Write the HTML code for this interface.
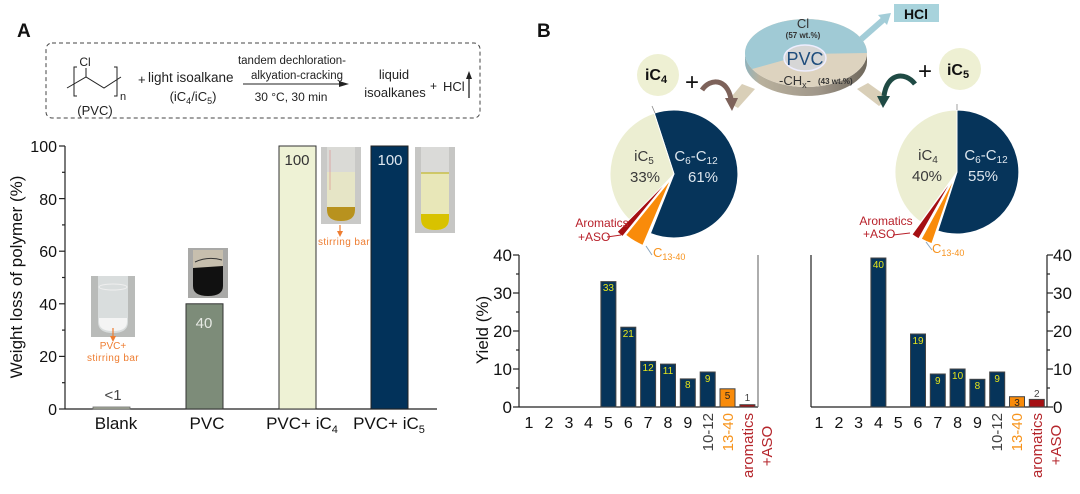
<!DOCTYPE html>
<html><head><meta charset="utf-8"><style>
html,body{margin:0;padding:0;background:#fff;}
svg{display:block;font-family:"Liberation Sans",Arial,sans-serif;}
</style></head><body>
<svg width="1080" height="494" viewBox="0 0 1080 494" xmlns="http://www.w3.org/2000/svg">
<defs>
<linearGradient id="side" x1="0" y1="0" x2="1" y2="0">
<stop offset="0" stop-color="#8fb3bd"/><stop offset="0.12" stop-color="#b9b19d"/><stop offset="0.6" stop-color="#a0978a"/><stop offset="1" stop-color="#6f685c"/>
</linearGradient>
</defs>
<rect width="1080" height="494" fill="#fff"/>

<!-- ===== Panel A ===== -->
<text x="17" y="37" font-size="19" font-weight="bold" fill="#111">A</text>
<rect x="46" y="43" width="434" height="75" rx="6" fill="none" stroke="#444" stroke-width="1" stroke-dasharray="4,3"/>
<!-- PVC structure -->
<text x="85" y="66" font-size="12" text-anchor="middle" fill="#222">Cl</text>
<line x1="86" y1="68" x2="86" y2="77" stroke="#222" stroke-width="1"/>
<polyline points="67,88 86,77 104,88 121,77" fill="none" stroke="#222" stroke-width="1"/>
<path d="M77,67 L74,67 L74,96 L77,96" fill="none" stroke="#222" stroke-width="1"/>
<path d="M114,67 L117,67 L117,96 L114,96" fill="none" stroke="#222" stroke-width="1"/>
<text x="120" y="100" font-size="11" fill="#222">n</text>
<text x="95" y="115" font-size="13" text-anchor="middle" fill="#222">(PVC)</text>
<text x="138" y="84" font-size="13" fill="#222">+</text>
<text x="148" y="82" font-size="13.5" fill="#222">light isoalkane</text>
<text x="193" y="101" font-size="13" text-anchor="middle" fill="#222">(iC<tspan font-size="9" dy="3">4</tspan><tspan dy="-3">/iC</tspan><tspan font-size="9" dy="3">5</tspan><tspan dy="-3">)</tspan></text>
<text x="292" y="64" font-size="11.5" text-anchor="middle" fill="#222">tandem dechloration-</text>
<text x="297" y="79" font-size="11.5" text-anchor="middle" fill="#222">alkyation-cracking</text>
<line x1="243" y1="84" x2="342" y2="84" stroke="#222" stroke-width="1"/>
<polygon points="349,84 339,81 339,87" fill="#222"/>
<text x="291" y="101" font-size="12" text-anchor="middle" fill="#222">30 °C, 30 min</text>
<text x="394" y="79" font-size="13" text-anchor="middle" fill="#222">liquid</text>
<text x="395" y="97" font-size="13" text-anchor="middle" fill="#222">isoalkanes</text>
<text x="430" y="90" font-size="12" fill="#222">+</text>
<text x="443" y="91" font-size="13" fill="#222">HCl</text>
<line x1="469" y1="98" x2="469" y2="78" stroke="#222" stroke-width="1.3"/>
<polygon points="469,71 466,79 472,79" fill="#222"/>

<!-- Left chart axes -->
<g stroke="#222" stroke-width="1.2">
<line x1="65" y1="146" x2="65" y2="409"/>
<line x1="65" y1="409" x2="437" y2="409"/>
<line x1="59" y1="409" x2="65" y2="409"/><line x1="59" y1="356.4" x2="65" y2="356.4"/><line x1="59" y1="303.8" x2="65" y2="303.8"/><line x1="59" y1="251.2" x2="65" y2="251.2"/><line x1="59" y1="198.6" x2="65" y2="198.6"/><line x1="59" y1="146" x2="65" y2="146"/>
<line x1="62" y1="382.7" x2="65" y2="382.7"/><line x1="62" y1="330.1" x2="65" y2="330.1"/><line x1="62" y1="277.5" x2="65" y2="277.5"/><line x1="62" y1="224.9" x2="65" y2="224.9"/><line x1="62" y1="172.3" x2="65" y2="172.3"/>
</g>
<g font-size="16" text-anchor="end" fill="#111">
<text x="57" y="415">0</text><text x="57" y="362">20</text><text x="57" y="310">40</text><text x="57" y="257">60</text><text x="57" y="205">80</text><text x="57" y="152">100</text>
</g>
<text transform="translate(22,277) rotate(-90)" font-size="17" text-anchor="middle" fill="#111">Weight loss of polymer (%)</text>
<!-- bars -->
<rect x="93" y="407" width="37" height="2" fill="#b3b9a6" stroke="#666" stroke-width="0.8"/>
<rect x="186" y="303.8" width="37" height="105.2" fill="#7d8c79" stroke="#333" stroke-width="1"/>
<rect x="279" y="146" width="37" height="263" fill="#eef2d5" stroke="#333" stroke-width="1"/>
<rect x="371" y="146" width="37" height="263" fill="#02325a" stroke="#222" stroke-width="1"/>
<text x="113" y="400" font-size="15" text-anchor="middle" fill="#444">&lt;1</text>
<text x="204" y="328" font-size="15" text-anchor="middle" fill="#e6e9e4">40</text>
<text x="297" y="165" font-size="15" text-anchor="middle" fill="#333">100</text>
<text x="390" y="165" font-size="15" text-anchor="middle" fill="#dfe7ef">100</text>
<g font-size="17" text-anchor="middle" fill="#111">
<text x="116" y="429">Blank</text>
<text x="207" y="429">PVC</text>
<text x="302" y="429">PVC+ iC<tspan font-size="11" dy="4">4</tspan></text>
<text x="389" y="429">PVC+ iC<tspan font-size="11" dy="4">5</tspan></text>
</g>
<!-- tube photos -->
<rect x="91" y="276" width="44" height="61" fill="#b9bbb9"/>
<path d="M98,276 L128,276 L128,322 Q128,333 113,333 Q98,333 98,322 Z" fill="#d9dddd"/>
<ellipse cx="113" cy="287" rx="14" ry="3" fill="none" stroke="#eee" stroke-width="1"/>
<path d="M99,318 L127,318 L127,322 Q127,331 113,331 Q99,331 99,322 Z" fill="#f4f4f4"/>
<line x1="113" y1="328" x2="113" y2="338" stroke="#ee7d31" stroke-width="1.2"/>
<polygon points="113,342 110,336 116,336" fill="#ee7d31"/>
<text x="113" y="349" font-size="10" text-anchor="middle" fill="#ee7d31">PVC+</text>
<text x="113" y="361" font-size="10" text-anchor="middle" fill="#ee7d31" letter-spacing="0.4">stirring bar</text>

<rect x="188" y="248" width="40" height="50" fill="#a9a9a7"/>
<path d="M193,250 L223,250 L223,286 Q223,296 208,296 Q193,296 193,286 Z" fill="#c7bfae"/>
<path d="M193,268 L223,266 L223,286 Q223,296 208,296 Q193,296 193,286 Z" fill="#111"/>
<path d="M195,262 Q208,256 222,260" fill="none" stroke="#333" stroke-width="1"/>

<rect x="321" y="147" width="40" height="77" fill="#c9c9c7"/>
<path d="M327,147 L355,147 L355,210 Q355,221 341,221 Q327,221 327,210 Z" fill="#dadad6"/>
<path d="M327,172 L355,172 L355,210 Q355,221 341,221 Q327,221 327,210 Z" fill="#e6e5c6"/>
<path d="M327,207 L355,207 L355,210 Q355,221 341,221 Q327,221 327,210 Z" fill="#b8921e"/>
<line x1="330" y1="150" x2="330" y2="190" stroke="#d88" stroke-width="1" opacity="0.6"/>
<line x1="340" y1="225" x2="340" y2="233" stroke="#ee7d31" stroke-width="1.2"/>
<polygon points="340,237 337,231 343,231" fill="#ee7d31"/>
<text x="344" y="245" font-size="10" text-anchor="middle" fill="#ee7d31" letter-spacing="0.4">stirring bar</text>

<rect x="415" y="147" width="40" height="86" fill="#c6c6c4"/>
<path d="M421,147 L449,147 L449,219 Q449,230 435,230 Q421,230 421,219 Z" fill="#dadad8"/>
<path d="M421,173 L449,173 L449,219 Q449,230 435,230 Q421,230 421,219 Z" fill="#e8e7b8"/>
<line x1="421" y1="173" x2="449" y2="173" stroke="#c2b830" stroke-width="1.2"/>
<path d="M421,214 L449,214 L449,219 Q449,230 435,230 Q421,230 421,219 Z" fill="#d8c200"/>

<!-- ===== Panel B ===== -->
<text x="537" y="37" font-size="19" font-weight="bold" fill="#111">B</text>

<!-- HCl -->
<rect x="894" y="4" width="45" height="18" fill="#a8d3dc"/>
<text x="916" y="19" font-size="14" font-weight="bold" text-anchor="middle" fill="#111">HCl</text>
<line x1="858" y1="42" x2="883" y2="20" stroke="#a3cdd8" stroke-width="6"/>
<polygon points="891,13 887,25 878,15" fill="#a3cdd8"/>

<!-- beige bands -->
<polygon points="742,84 755,89 738,108 727,102" fill="#d9cfb8"/>
<polygon points="857,89 868,83 889,98 879,106" fill="#d9cfb8"/>

<!-- PVC disk -->
<path d="M745,53 A61,34 0 0 0 867,53 L867,62 A61,34 0 0 1 745,62 Z" fill="url(#side)"/>
<ellipse cx="806" cy="53" rx="61" ry="34" fill="#ddd3bf"/>
<path d="M806,54 L867,53 A61,34 0 1 0 752.1,69 Z" fill="#a0cad5"/>
<ellipse cx="805" cy="58" rx="21" ry="13" fill="#d6d6d6" stroke="#eef" stroke-width="1.5"/>
<text x="805" y="65" font-size="18" text-anchor="middle" fill="#1d4c7c">PVC</text>
<text x="803" y="28" font-size="13" text-anchor="middle" fill="#333">Cl</text>
<text x="803" y="38" font-size="8" font-weight="bold" text-anchor="middle" fill="#333">(57 wt.%)</text>
<text x="779" y="85" font-size="13" fill="#333">-CH<tspan font-size="9" dy="3">x</tspan><tspan dy="-3">-</tspan></text>
<text x="818" y="84" font-size="8" font-weight="bold" fill="#333">(43 wt.%)</text>

<!-- iC4 / iC5 bubbles -->
<circle cx="658" cy="75" r="21" fill="#eef0d3"/>
<text x="656" y="80" font-size="16" font-weight="bold" text-anchor="middle" fill="#111">iC<tspan font-size="11" dy="3">4</tspan></text>
<text x="692" y="90" font-size="24" text-anchor="middle" fill="#111">+</text>
<circle cx="960" cy="69" r="21" fill="#eef0d3"/>
<text x="958" y="75" font-size="16" font-weight="bold" text-anchor="middle" fill="#111">iC<tspan font-size="11" dy="3">5</tspan></text>
<text x="925" y="79" font-size="24" text-anchor="middle" fill="#111">+</text>

<!-- curved arrows -->
<path d="M702,90 C710,78 727,78 731,99" fill="none" stroke="#7d625a" stroke-width="5"/>
<polygon points="725,98 738,98 732,111" fill="#7d625a"/>
<path d="M915,84 C905,71 887,73 884,96" fill="none" stroke="#1f4a44" stroke-width="5"/>
<polygon points="877,96 890,96 883,108" fill="#1f4a44"/>

<!-- Left pie -->
<g stroke="#fff" stroke-width="1">
<path d="M674,174 L654.2,113.1 A64,64 0 1 1 650.4,233.5 Z" fill="#06345a"/>
<path d="M674,174 L630.4,220.8 A64,64 0 0 1 654.2,113.1 Z" fill="#eceed2"/>
<path d="M670.9,179.1 L642.8,245.4 A72,72 0 0 1 625.6,235.0 Z" fill="#f98b0a"/>
<path d="M669.3,179.2 L622.5,236.6 A74,74 0 0 1 617.2,231.8 Z" fill="#a50f12"/>
</g>
<line x1="652" y1="106" x2="655" y2="113" stroke="#888" stroke-width="0.8"/>
<text x="644" y="161" font-size="15" text-anchor="middle" fill="#3a3a3a">iC<tspan font-size="10" dy="3">5</tspan></text>
<text x="645" y="182" font-size="15" text-anchor="middle" fill="#3a3a3a">33%</text>
<text x="696" y="161" font-size="15" text-anchor="middle" fill="#dde6ee">C<tspan font-size="10" dy="3">6</tspan><tspan dy="-3">-C</tspan><tspan font-size="10" dy="3">12</tspan></text>
<text x="703" y="182" font-size="15" text-anchor="middle" fill="#dde6ee">61%</text>
<text x="602" y="227" font-size="12" text-anchor="middle" fill="#b8202a">Aromatics</text>
<text x="578" y="241" font-size="12" fill="#b8202a">+ASO</text>
<line x1="607" y1="237" x2="621" y2="235" stroke="#b8202a" stroke-width="1"/>
<line x1="646" y1="246" x2="652" y2="255" stroke="#8aa6c0" stroke-width="1"/>
<text x="653" y="257" font-size="13" fill="#f7931e">C<tspan font-size="9" dy="3">13-40</tspan></text>

<!-- Right pie -->
<g stroke="#fff" stroke-width="1">
<path d="M957,172 L957,110 A62,62 0 1 1 937.8,231 Z" fill="#06345a"/>
<path d="M957,172 L920.6,222.2 A62,62 0 0 1 957,110 Z" fill="#eceed2"/>
<path d="M954.6,177.5 L931.8,243.7 A70,70 0 0 1 921.2,239.0 Z" fill="#f98b0a"/>
<path d="M953.2,177.9 L918.7,238.8 A70,70 0 0 1 912.0,234.5 Z" fill="#a50f12"/>
</g>
<line x1="957" y1="104" x2="957" y2="110" stroke="#888" stroke-width="0.8"/>
<text x="928" y="160" font-size="15" text-anchor="middle" fill="#3a3a3a">iC<tspan font-size="10" dy="3">4</tspan></text>
<text x="927" y="181" font-size="15" text-anchor="middle" fill="#3a3a3a">40%</text>
<text x="986" y="160" font-size="15" text-anchor="middle" fill="#dde6ee">C<tspan font-size="10" dy="3">6</tspan><tspan dy="-3">-C</tspan><tspan font-size="10" dy="3">12</tspan></text>
<text x="983" y="181" font-size="15" text-anchor="middle" fill="#dde6ee">55%</text>
<text x="886" y="225" font-size="12" text-anchor="middle" fill="#b8202a">Aromatics</text>
<text x="863" y="238" font-size="12" fill="#b8202a">+ASO</text>
<line x1="893" y1="235" x2="910" y2="233" stroke="#b8202a" stroke-width="1"/>
<line x1="926" y1="242" x2="932" y2="250" stroke="#8aa6c0" stroke-width="1"/>
<text x="932" y="253" font-size="13" fill="#f7931e">C<tspan font-size="9" dy="3">13-40</tspan></text>

<!-- ===== Yield chart 1 ===== -->
<g stroke="#222" stroke-width="1.2">
<line x1="519" y1="255" x2="519" y2="407"/>
<line x1="519" y1="407" x2="758" y2="407"/>
<line x1="513" y1="407" x2="519" y2="407"/><line x1="513" y1="369" x2="519" y2="369"/><line x1="513" y1="331" x2="519" y2="331"/><line x1="513" y1="293" x2="519" y2="293"/><line x1="513" y1="255" x2="519" y2="255"/>
<line x1="516" y1="388" x2="519" y2="388"/><line x1="516" y1="350" x2="519" y2="350"/><line x1="516" y1="312" x2="519" y2="312"/><line x1="516" y1="274" x2="519" y2="274"/>
</g>
<line x1="758" y1="255" x2="758" y2="407" stroke="#777" stroke-width="1.2"/>
<g font-size="17" text-anchor="end" fill="#111">
<text x="512" y="413">0</text><text x="512" y="375">10</text><text x="512" y="337">20</text><text x="512" y="299">30</text><text x="512" y="261">40</text>
</g>
<text transform="translate(488,330) rotate(-90)" font-size="17" text-anchor="middle" fill="#111">Yield (%)</text>
<g stroke="#444" stroke-width="1">
<rect x="600.9" y="281.6" width="15" height="125.4" fill="#06345a"/>
<rect x="620.8" y="327.2" width="15" height="79.8" fill="#06345a"/>
<rect x="640.6" y="361.4" width="15" height="45.6" fill="#06345a"/>
<rect x="660.5" y="364.1" width="15" height="42.9" fill="#06345a"/>
<rect x="680.3" y="378.9" width="15" height="28.1" fill="#06345a"/>
<rect x="700.2" y="372" width="15" height="35" fill="#06345a"/>
<rect x="720" y="388.8" width="15" height="18.2" fill="#f98b0a"/>
<rect x="739.9" y="404.7" width="15" height="2.3" fill="#a50f12"/>
</g>
<g font-size="10" text-anchor="middle" fill="#e5e51a">
<text x="608.4" y="291">33</text><text x="628.3" y="337">21</text><text x="648.1" y="371">12</text><text x="668" y="374">11</text><text x="687.8" y="388">8</text><text x="707.7" y="382">9</text>
</g>
<text x="727.5" y="399" font-size="10" text-anchor="middle" fill="#222">5</text>
<text x="747.4" y="401" font-size="10" text-anchor="middle" fill="#444">1</text>
<g font-size="16" text-anchor="middle" fill="#111">
<text x="529" y="428">1</text><text x="549" y="428">2</text><text x="569" y="428">3</text><text x="588.5" y="428">4</text><text x="608.4" y="428">5</text><text x="628.3" y="428">6</text><text x="648.1" y="428">7</text><text x="668" y="428">8</text><text x="687.8" y="428">9</text>
</g>
<text transform="translate(713,413) rotate(-90)" font-size="15" text-anchor="end" fill="#404040">10-12</text>
<text transform="translate(733,413) rotate(-90)" font-size="15" text-anchor="end" fill="#f7941d">13-40</text>
<text transform="translate(753,413) rotate(-90)" font-size="15" text-anchor="end" fill="#b5262c">aromatics</text>
<text transform="translate(772,446) rotate(-90)" font-size="15" text-anchor="middle" fill="#b5262c">+ASO</text>

<!-- ===== Yield chart 2 ===== -->
<g stroke="#222" stroke-width="1.2">
<line x1="811" y1="255" x2="811" y2="407"/>
<line x1="811" y1="407" x2="1047" y2="407"/>
<line x1="1047" y1="255" x2="1047" y2="407"/>
<line x1="1047" y1="407" x2="1053" y2="407"/><line x1="1047" y1="369" x2="1053" y2="369"/><line x1="1047" y1="331" x2="1053" y2="331"/><line x1="1047" y1="293" x2="1053" y2="293"/><line x1="1047" y1="255" x2="1053" y2="255"/>
<line x1="1047" y1="388" x2="1050" y2="388"/><line x1="1047" y1="350" x2="1050" y2="350"/><line x1="1047" y1="312" x2="1050" y2="312"/><line x1="1047" y1="274" x2="1050" y2="274"/>
</g>
<g font-size="17" fill="#111">
<text x="1053" y="413">0</text><text x="1053" y="375">10</text><text x="1053" y="337">20</text><text x="1053" y="299">30</text><text x="1053" y="261">40</text>
</g>
<g stroke="#444" stroke-width="1">
<rect x="870.9" y="258" width="15" height="149" fill="#06345a"/>
<rect x="910.5" y="334" width="15" height="73" fill="#06345a"/>
<rect x="930.3" y="374" width="15" height="33" fill="#06345a"/>
<rect x="950.1" y="369" width="15" height="38" fill="#06345a"/>
<rect x="969.9" y="379.3" width="15" height="27.7" fill="#06345a"/>
<rect x="989.7" y="372" width="15" height="35" fill="#06345a"/>
<rect x="1009.5" y="396.7" width="15" height="10.3" fill="#f98b0a"/>
<rect x="1029.3" y="399.4" width="15" height="7.6" fill="#a50f12"/>
</g>
<g font-size="10" text-anchor="middle" fill="#e5e51a">
<text x="878.4" y="268">40</text><text x="918" y="344">19</text><text x="937.8" y="384">9</text><text x="957.6" y="379">10</text><text x="977.4" y="389">8</text><text x="997.2" y="382">9</text>
</g>
<text x="1017" y="406" font-size="10" text-anchor="middle" fill="#222">3</text>
<text x="1036.8" y="397" font-size="10" text-anchor="middle" fill="#444">2</text>
<g font-size="16" text-anchor="middle" fill="#111">
<text x="819" y="428">1</text><text x="839" y="428">2</text><text x="858.6" y="428">3</text><text x="878.4" y="428">4</text><text x="898.2" y="428">5</text><text x="918" y="428">6</text><text x="937.8" y="428">7</text><text x="957.6" y="428">8</text><text x="977.4" y="428">9</text>
</g>
<text transform="translate(1002,413) rotate(-90)" font-size="15" text-anchor="end" fill="#404040">10-12</text>
<text transform="translate(1022,413) rotate(-90)" font-size="15" text-anchor="end" fill="#f7941d">13-40</text>
<text transform="translate(1042,413) rotate(-90)" font-size="15" text-anchor="end" fill="#b5262c">aromatics</text>
<text transform="translate(1061,445) rotate(-90)" font-size="15" text-anchor="middle" fill="#b5262c">+ASO</text>
</svg>
</body></html>
